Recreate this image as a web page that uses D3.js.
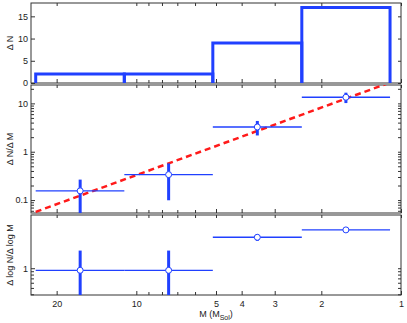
<!DOCTYPE html>
<html>
<head>
<meta charset="utf-8">
<script src="https://cdn.jsdelivr.net/npm/d3@7"></script>
<style>
  body { margin: 0; background: #fff; }
  text { font-family: "Liberation Sans", Arial, sans-serif; font-size: 9px; fill: #222; }
</style>
</head>
<body>
<svg id="chart" width="407" height="323"></svg>
<script>
// bins run from high mass to low mass
var binEdges = [24.0, 11.1, 5.14, 2.37, 1.10];
var binCenters = [16.3, 7.55, 3.49, 1.615];
var counts = [2, 2, 9, 17];
var dndm = [0.155, 0.336, 3.25, 13.4];
var dndmErr = [0.11, 0.237, 1.08, 3.25];
var logSlope = [0.93, 0.93, 2.97, 3.85];
var logSlopeErr = [0.93, 0.93, 0.35, 0.08];
var fitM = [24, 1.1];
var fitY = [0.057, 27];

var xTicks = [20, 10, 5, 4, 3, 2, 1];
var xMinor = [9, 8, 7, 6];
var countTicks = [0, 5, 10, 15];
var dndmTicks = [0.1, 1, 10];
var dndmMinor = [0.06, 0.07, 0.08, 0.09, 0.2, 0.3, 0.4, 0.5, 0.6, 0.7, 0.8, 0.9, 2, 3, 4, 5, 6, 7, 8, 9, 20];
var slopeTicks = [1];
var slopeMinor = [0.4, 0.5, 0.6, 0.7, 0.8, 0.9];

var BLUE = '#2040ff';
var RED = '#ff1a1a';
var AXIS = '#333';

var svg = d3.select('#chart');
var left = 31, right = 401;

var x = d3.scaleLog().domain([25, 1]).range([left, right]);

var panels = [
  {id: 'p1', top: 3, bottom: 83, y: d3.scaleLinear().domain([0, 18]),
    ticks: countTicks, minor: [], fmt: d3.format('d'), label: 'Δ N'},
  {id: 'p2', top: 85, bottom: 213, y: d3.scaleLog().domain([0.054, 24]),
    ticks: dndmTicks, minor: dndmMinor, fmt: function(d){ return d + ''; }, label: 'Δ N/Δ M'},
  {id: 'p3', top: 215, bottom: 295, y: d3.scaleLog().domain([0.39, 6.5]),
    ticks: slopeTicks, minor: slopeMinor, fmt: function(d){ return d + ''; }, label: 'Δ log N/Δ log M'}
];

panels.forEach(function(p, i) {
  p.y.range([p.bottom, p.top]);
  var g = svg.append('g');
  p.g = g;

  svg.append('clipPath').attr('id', 'clip-' + p.id)
    .append('rect').attr('x', left).attr('y', p.top)
    .attr('width', right - left).attr('height', p.bottom - p.top);

  // x ticks, pointing inward on bottom and top
  var xb = d3.axisBottom(x).tickValues(xTicks).tickSize(-4).tickPadding(6)
    .tickFormat(i === 2 ? function(d){ return d + ''; } : function(){ return ''; });
  g.append('g').attr('transform', 'translate(0,' + p.bottom + ')').call(xb);
  g.append('g').attr('transform', 'translate(0,' + p.bottom + ')')
    .call(d3.axisBottom(x).tickValues(xMinor).tickSize(-3).tickFormat(''));
  g.append('g').attr('transform', 'translate(0,' + p.top + ')')
    .call(d3.axisTop(x).tickValues(xTicks.concat(xMinor)).tickSize(-3).tickFormat(''));

  // y ticks, left with labels, right without
  g.append('g').attr('transform', 'translate(' + left + ',0)')
    .call(d3.axisLeft(p.y).tickValues(p.ticks).tickSize(-4).tickPadding(3).tickFormat(p.fmt));
  g.append('g').attr('transform', 'translate(' + left + ',0)')
    .call(d3.axisLeft(p.y).tickValues(p.minor).tickSize(-3).tickFormat(''));
  g.append('g').attr('transform', 'translate(' + right + ',0)')
    .call(d3.axisRight(p.y).tickValues(p.ticks.concat(p.minor)).tickSize(-3).tickFormat(''));

  g.selectAll('.domain').remove();
  g.selectAll('.tick line').attr('stroke', AXIS);
  g.selectAll('.tick text').style('font-size', '9px').style('font-family', '"Liberation Sans", Arial, sans-serif');

  g.append('rect').attr('x', left).attr('y', p.top)
    .attr('width', right - left).attr('height', p.bottom - p.top)
    .attr('fill', 'none').attr('stroke', AXIS).attr('stroke-width', 1);

  g.append('text')
    .attr('transform', 'translate(13,' + ((p.top + p.bottom) / 2) + ') rotate(-90)')
    .attr('text-anchor', 'middle')
    .text(p.label);

  p.plot = svg.append('g').attr('clip-path', 'url(#clip-' + p.id + ')');
});

// top panel: outlined histogram bars
var p1 = panels[0];
p1.plot.selectAll('path.bar').data(counts).enter().append('path')
  .attr('class', 'bar')
  .attr('d', function(d, i) {
    var x0 = x(binEdges[i]), x1 = x(binEdges[i + 1]);
    return 'M' + x0 + ',' + p1.y(0) + 'V' + p1.y(d) + 'H' + x1 + 'V' + p1.y(0);
  })
  .attr('fill', 'none').attr('stroke', BLUE).attr('stroke-width', 3);

// error bars for the two lower panels
function errorBars(p, vals, errs) {
  var lo = p.y.domain()[0];
  vals.forEach(function(v, i) {
    var e = errs[i];
    var y0 = Math.max(v - e, lo * 0.5);
    p.plot.append('line')
      .attr('x1', x(binEdges[i])).attr('x2', x(binEdges[i + 1]))
      .attr('y1', p.y(v)).attr('y2', p.y(v))
      .attr('stroke', BLUE).attr('stroke-width', 1.3);
    p.plot.append('line')
      .attr('x1', x(binCenters[i])).attr('x2', x(binCenters[i]))
      .attr('y1', p.y(y0)).attr('y2', p.y(v + e))
      .attr('stroke', BLUE).attr('stroke-width', 3);
  });
  vals.forEach(function(v, i) {
    p.plot.append('circle')
      .attr('cx', x(binCenters[i])).attr('cy', p.y(v)).attr('r', 3)
      .attr('fill', '#fff').attr('stroke', BLUE).attr('stroke-width', 1);
  });
}

var p2 = panels[1];
p2.plot.append('path')
  .datum(d3.zip(fitM, fitY))
  .attr('d', d3.line().x(function(d){ return x(d[0]); }).y(function(d){ return p2.y(d[1]); }))
  .attr('fill', 'none').attr('stroke', RED).attr('stroke-width', 2.5)
  .attr('stroke-dasharray', '6,4');
errorBars(p2, dndm, dndmErr);

errorBars(panels[2], logSlope, logSlopeErr);

// x label with subscript
var xl = svg.append('text').attr('x', (left + right) / 2).attr('y', 317)
  .attr('text-anchor', 'middle');
xl.append('tspan').text('M (M');
xl.append('tspan').attr('dy', 2.5).style('font-size', '7px').text('Sol');
xl.append('tspan').attr('dy', -2.5).text(')');
</script>
</body>
</html>
